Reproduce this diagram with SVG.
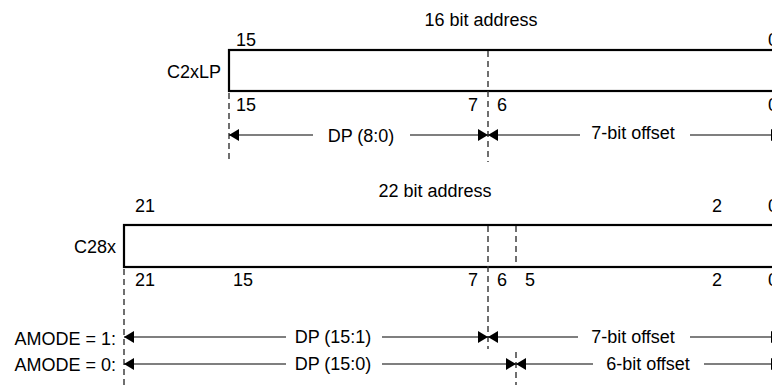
<svg xmlns="http://www.w3.org/2000/svg" width="772" height="387" viewBox="0 0 772 387">
<style>
text{font-family:"Liberation Sans",Arial,sans-serif;font-size:18px;fill:#000}
.e{text-anchor:end}
.m{text-anchor:middle}
.box{fill:#fff;stroke:#000;stroke-width:2.2}
.dash{stroke:#333;stroke-width:1.4;stroke-dasharray:6 4;fill:none}
.arr{stroke:#000;stroke-width:1.2;fill:none}
</style>
<defs>
<marker id="ah" markerUnits="userSpaceOnUse" markerWidth="10" markerHeight="12" refX="10" refY="6" orient="auto-start-reverse" viewBox="0 0 10 12">
<path d="M0,0 L10,6 L0,12 Z" fill="#000"/>
</marker>
</defs>
<rect width="772" height="387" fill="#fff"/>
<g id="c2xlp">
<rect class="box" x="229" y="50" width="600" height="41"/>
<text x="481" y="26" class="m">16 bit address</text>
<text x="236" y="46">15</text>
<text x="768" y="46">0</text>
<text x="221" y="78" class="e">C2xLP</text>
<text x="236" y="111">15</text>
<text x="478" y="111" class="e">7</text>
<text x="497" y="111">6</text>
<text x="768" y="111">0</text>
<text x="361" y="142" class="m">DP (8:0)</text>
<text x="633" y="139" class="m">7-bit offset</text>
</g>
<g id="c28x">
<rect class="box" x="124" y="225" width="700" height="42"/>
<text x="435" y="197" class="m">22 bit address</text>
<text x="135" y="212">21</text>
<text x="712" y="212">2</text>
<text x="768" y="212">0</text>
<text x="116" y="253" class="e">C28x</text>
<text x="135" y="286">21</text>
<text x="233" y="286">15</text>
<text x="478" y="286" class="e">7</text>
<text x="497" y="286">6</text>
<text x="525" y="286">5</text>
<text x="712" y="286">2</text>
<text x="768" y="286">0</text>
<text x="116" y="345" class="e">AMODE = 1:</text>
<text x="116" y="371" class="e">AMODE = 0:</text>
<text x="333" y="343" class="m">DP (15:1)</text>
<text x="633" y="343" class="m">7-bit offset</text>
<text x="333" y="370" class="m">DP (15:0)</text>
<text x="648" y="370" class="m">6-bit offset</text>
</g>
<g id="connectors">
<line class="dash" x1="229" y1="93" x2="229" y2="162"/>
<line class="dash" x1="488" y1="51" x2="488" y2="162"/>
<line class="arr" x1="229" y1="135" x2="313" y2="135" marker-start="url(#ah)"/>
<line class="arr" x1="410" y1="135" x2="488" y2="135" marker-end="url(#ah)"/>
<line class="arr" x1="488" y1="135" x2="580" y2="135" marker-start="url(#ah)"/>
<line class="arr" x1="690" y1="135" x2="781" y2="135" marker-end="url(#ah)"/>
<line class="dash" x1="124" y1="269" x2="124" y2="385"/>
<line class="dash" x1="488" y1="226" x2="488" y2="349"/>
<line class="dash" x1="516" y1="226" x2="516" y2="266"/>
<line class="dash" x1="516" y1="352" x2="516" y2="385"/>
<line class="arr" x1="124" y1="337" x2="286" y2="337" marker-start="url(#ah)"/>
<line class="arr" x1="382" y1="337" x2="488" y2="337" marker-end="url(#ah)"/>
<line class="arr" x1="488" y1="337" x2="578" y2="337" marker-start="url(#ah)"/>
<line class="arr" x1="690" y1="337" x2="781" y2="337" marker-end="url(#ah)"/>
<line class="arr" x1="124" y1="364" x2="286" y2="364" marker-start="url(#ah)"/>
<line class="arr" x1="382" y1="364" x2="516" y2="364" marker-end="url(#ah)"/>
<line class="arr" x1="516" y1="364" x2="593" y2="364" marker-start="url(#ah)"/>
<line class="arr" x1="704" y1="364" x2="781" y2="364" marker-end="url(#ah)"/>
</g>
</svg>
